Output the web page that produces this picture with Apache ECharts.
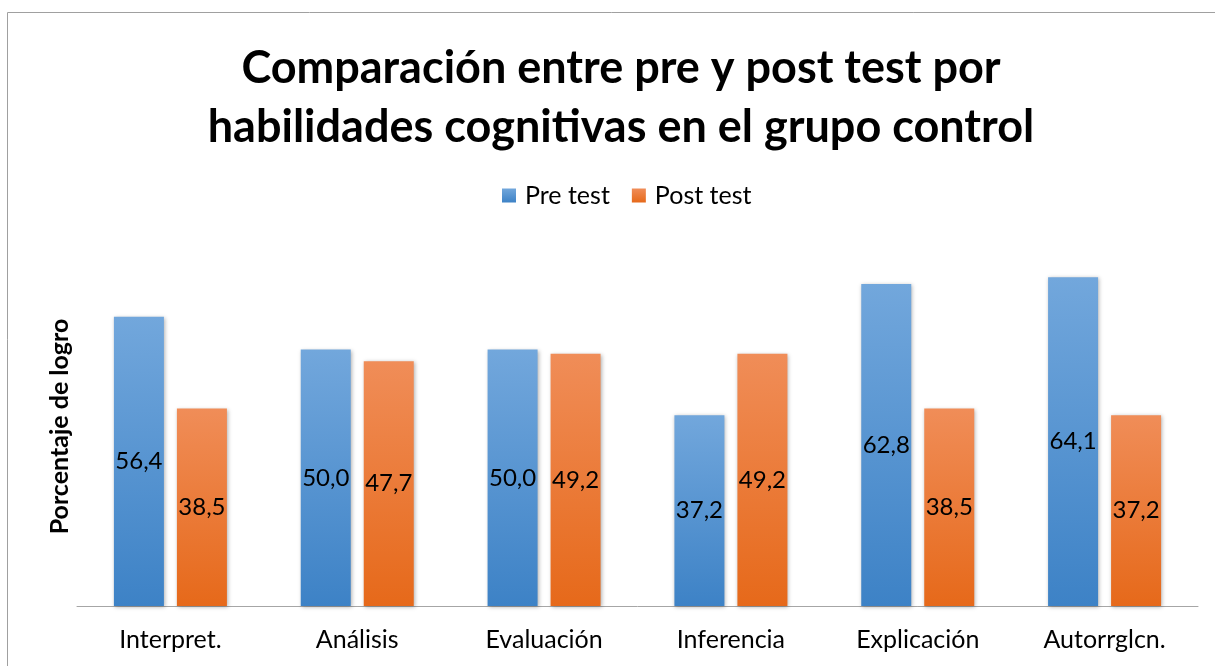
<!DOCTYPE html>
<html><head><meta charset="utf-8">
<script src="https://cdn.jsdelivr.net/npm/echarts@6/dist/echarts.min.js"></script>
<style>html,body{margin:0;padding:0;background:#fff}#c{width:1215px;height:666px}</style>
</head><body><div id="c"></div>
<script>
const categories = ['Interpret.', 'Análisis', 'Evaluación', 'Inferencia', 'Explicación', 'Autorrglcn.'];
const preTest = [56.4, 50.0, 50.0, 37.2, 62.8, 64.1];
const postTest = [38.5, 47.7, 49.2, 49.2, 38.5, 37.2];
const seriesNames = ['Pre test', 'Post test'];

const FONT = 'Lato, "Open Sans", sans-serif';
function grad(top, bottom) {
  return new echarts.graphic.LinearGradient(0, 0, 0, 1, [{offset: 0, color: top}, {offset: 1, color: bottom}]);
}
const chart = echarts.init(document.getElementById('c'));
const labelOpt = {
  show: true, position: 'inside', color: '#000', fontSize: 24, fontFamily: FONT,
  formatter: p => p.value.toFixed(1).replace('.', ',')
};
chart.setOption({
  animation: false,
  title: {
    text: 'Comparación entre pre y post test por\nhabilidades cognitivas en el grupo control',
    left: 616, textAlign: 'center', top: 34,
    textStyle: {fontFamily: FONT, fontWeight: 'bold', fontSize: 45, lineHeight: 59, color: '#000'}
  },
  legend: {
    top: 178, left: 497, itemWidth: 14, itemHeight: 14, itemGap: 22,
    icon: 'rect',
    textStyle: {fontFamily: FONT, fontSize: 25, color: '#000', padding: [0, 0, 0, 4]},
    data: seriesNames
  },
  graphic: [{
    type: 'rect', shape: {x: 7.5, y: 12.5, width: 1400, height: 1000},
    style: {fill: 'none', stroke: '#a0a0a0', lineWidth: 1}, silent: true
  }],
  grid: {left: 77, right: 17, top: 247, bottom: 60},
  xAxis: {
    type: 'category', data: categories,
    axisLine: {lineStyle: {color: '#a6a6a6', width: 1}},
    axisTick: {show: false},
    axisLabel: {fontFamily: FONT, fontSize: 25, color: '#000', margin: 21}
  },
  yAxis: {
    type: 'value', min: 0, max: 70,
    name: 'Porcentaje de logro', nameLocation: 'middle', nameGap: 5,
    nameTextStyle: {fontFamily: FONT, fontWeight: 'bold', fontSize: 25, color: '#000'},
    axisLine: {show: false}, axisTick: {show: false}, axisLabel: {show: false},
    splitLine: {show: false}
  },
  series: [
    {
      name: seriesNames[0], type: 'bar', data: preTest, barWidth: 50, barGap: '26%',
      itemStyle: {color: grad('#72a7dc', '#3d82c6'), shadowColor: 'rgba(0,0,0,0.3)', shadowBlur: 4, shadowOffsetX: 1, shadowOffsetY: 1},
      label: labelOpt
    },
    {
      name: seriesNames[1], type: 'bar', data: postTest, barWidth: 50,
      itemStyle: {color: grad('#f08d58', '#e6691a'), shadowColor: 'rgba(0,0,0,0.3)', shadowBlur: 4, shadowOffsetX: 1, shadowOffsetY: 1},
      label: labelOpt
    }
  ]
});
</script></body></html>
